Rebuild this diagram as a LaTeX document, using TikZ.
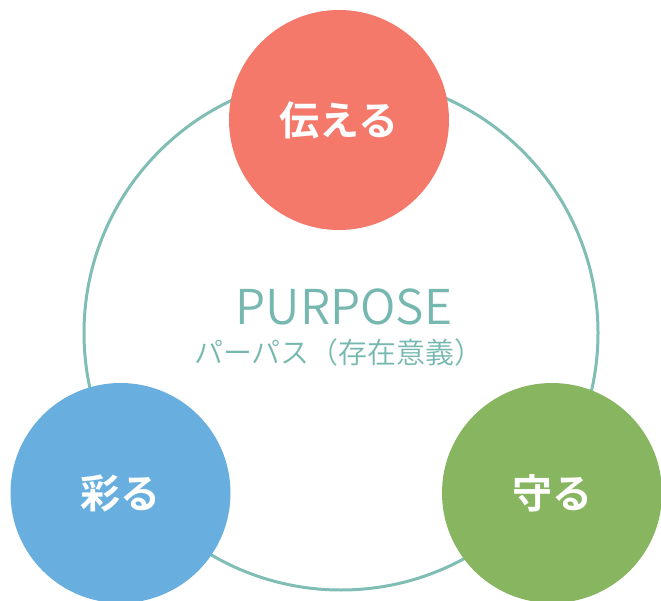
\documentclass[tikz,border=0pt]{standalone}
\usepackage{fontspec}
\newfontfamily\jpbold{Noto Sans CJK JP Bold}
\newfontfamily\jpreg{Noto Sans CJK JP DemiLight}
\definecolor{ringc}{HTML}{80BDB4}
\definecolor{textc}{HTML}{76B8B0}
\definecolor{redc}{HTML}{F5796A}
\definecolor{bluec}{HTML}{68AEDF}
\definecolor{greenc}{HTML}{88B560}
\tikzset{
  bubble/.style={circle, minimum size=220pt, inner sep=0pt, text=white, font=\jpbold\fontsize{40}{40}\selectfont},
}
\begin{document}
\begin{tikzpicture}[x=1pt,y=-1pt]
\useasboundingbox (0,0) rectangle (661,601);
\node[circle, draw=ringc, line width=3pt, minimum size=514pt, inner sep=0pt] (ring) at (341,333) {};
\node[bubble, fill=redc] (tsutaeru) at (339,120) {伝える};
\node[bubble, fill=bluec] (irodoru) at (120.5,493) {彩る};
\node[bubble, fill=greenc] (mamoru) at (552,493) {守る};
\node[text=textc, font=\jpreg\fontsize{48}{48}\selectfont] (purpose) at (344,307) {PURPOSE};
\node[text=textc, font=\jpreg\fontsize{29}{29}\selectfont] (sub) at (339,352) {パーパス（存在意義）};
\end{tikzpicture}
\end{document}
